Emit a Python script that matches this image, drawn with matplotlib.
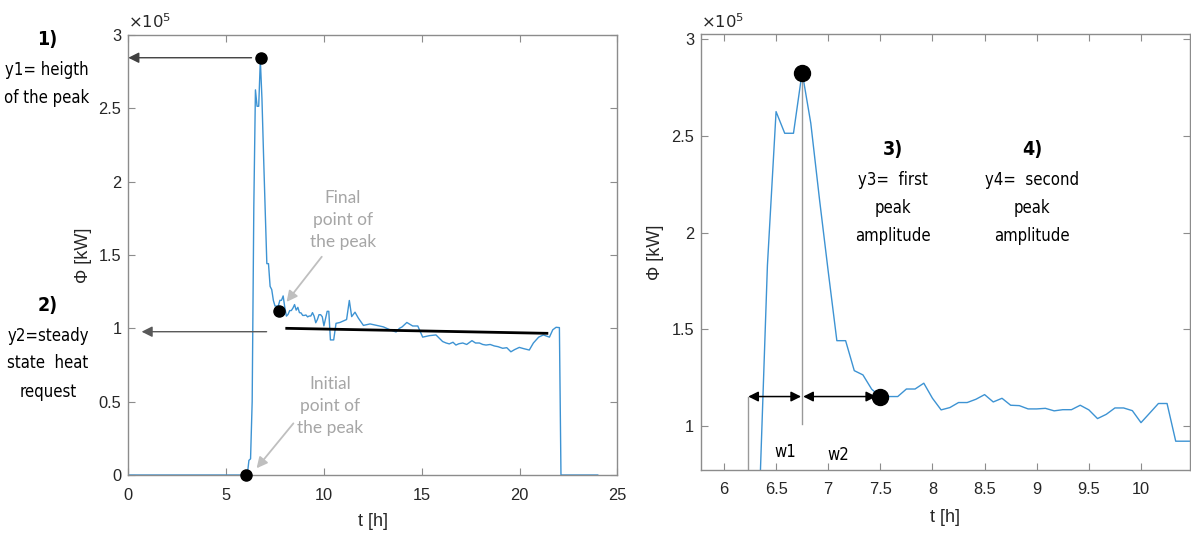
import matplotlib
matplotlib.use("Agg")
import matplotlib.pyplot as plt
from matplotlib.ticker import FuncFormatter

plt.rcParams['font.family'] = ['Liberation Sans', 'DejaVu Sans']

# heat request, units of 1e5 kW
t_h = [0.0, 6.0, 6.083, 6.167, 6.25, 6.333, 6.417, 6.5, 6.583, 6.667, 6.75, 6.833,
       6.917, 7.0, 7.083, 7.167, 7.25, 7.333, 7.417, 7.5, 7.583, 7.667, 7.75, 7.833,
       7.917, 8.0, 8.083, 8.167, 8.25, 8.333, 8.417, 8.5, 8.583, 8.667, 8.75, 8.833,
       8.917, 9.0, 9.083, 9.167, 9.25, 9.333, 9.417, 9.5, 9.583, 9.667, 9.75, 9.833,
       9.917, 10.0, 10.083, 10.167, 10.25, 10.333, 10.417, 10.5, 10.62, 10.82, 10.99,
       11.16, 11.3, 11.42, 11.59, 11.76, 12.02, 12.36, 12.7, 12.84, 13.04, 13.38,
       13.69, 13.86, 14.0, 14.24, 14.54, 14.8, 15.05, 15.39, 15.73, 16.07, 16.25,
       16.41, 16.6, 16.75, 16.9, 17.1, 17.3, 17.57, 17.75, 17.95, 18.12, 18.29, 18.5,
       18.71, 18.9, 19.14, 19.35, 19.56, 19.75, 19.99, 20.2, 20.5, 20.71, 20.98,
       21.22, 21.53, 21.7, 21.87, 22.04, 22.12, 24.0]
phi = [0.0, 0.0, 0.0, 0.1, 0.11, 0.5, 1.83, 2.626, 2.514, 2.514, 2.83, 2.566,
       2.17, 1.80, 1.441, 1.441, 1.286, 1.264, 1.19, 1.152, 1.152, 1.152, 1.191, 1.191,
       1.221, 1.143, 1.083, 1.095, 1.121, 1.121, 1.138, 1.162, 1.124, 1.143, 1.107, 1.105,
       1.088, 1.088, 1.091, 1.078, 1.084, 1.084, 1.107, 1.083, 1.038, 1.06, 1.093, 1.093,
       1.079, 1.017, 1.066, 1.116, 1.116, 0.921, 0.921, 0.921, 1.034, 1.04, 1.05,
       1.06, 1.19, 1.08, 1.11, 1.07, 1.02, 1.03, 1.02, 1.016, 1.01, 0.99,
       0.975, 1.0, 1.01, 1.04, 1.016, 1.016, 0.94, 0.95, 0.955, 0.91, 0.90,
       0.894, 0.905, 0.886, 0.895, 0.9, 0.89, 0.916, 0.9, 0.9, 0.89, 0.886, 0.89,
       0.88, 0.875, 0.864, 0.868, 0.84, 0.855, 0.87, 0.862, 0.852, 0.9, 0.94,
       0.955, 0.94, 0.99, 1.007, 1.005, 0.0, 0.0]

peak_pt = (6.78, 2.845)
start_pt = (6.0, 0.0)
final_pt = (7.72, 1.118)
steady_t = [8.1, 21.4]
steady_phi = [1.0, 0.966]

zoom_peak = (6.75, 2.824)
zoom_final = (7.5, 1.152)
w_left = 6.233

blue = '#3d93d3'
spine_c = '#8c8c8c'
txt_c = '#262626'
W, H = 1191, 534

fig = plt.figure(figsize=(W / 100, H / 100), dpi=100)
ax1 = fig.add_axes([128.3 / W, 1 - 475 / H, 489 / W, 440 / H])
ax2 = fig.add_axes([701 / W, 1 - 470 / H, 489 / W, 435.7 / H])

fmt = FuncFormatter(lambda v, p: '%g' % v)
for ax in (ax1, ax2):
    ax.plot(t_h, phi, color=blue, lw=1.0)
    for s in ax.spines.values():
        s.set_color(spine_c)
        s.set_linewidth(1.0)
    ax.tick_params(direction='in', length=5, width=0.8, color=spine_c,
                   top=True, right=True, labelsize=11.8, labelcolor=txt_c)
    ax.tick_params(axis='x', pad=9)
    ax.tick_params(axis='y', pad=5)
    ax.xaxis.set_major_formatter(fmt)
    ax.yaxis.set_major_formatter(fmt)
    ax.set_xlabel('t [h]', fontsize=13, color=txt_c)
    ax.set_ylabel('Φ [kW]', fontsize=13, color=txt_c)
    ax.text(0, 1.008, r'$\times10^{5}$', transform=ax.transAxes, fontsize=11.8,
            color=txt_c, ha='left', va='bottom')

# left panel
ax1.set_xlim(0, 25)
ax1.set_ylim(0, 3)
ax1.set_xticks([0, 5, 10, 15, 20, 25])
ax1.set_yticks([0, 0.5, 1, 1.5, 2, 2.5, 3])
ax1.xaxis.set_label_coords(0.5, -0.087)
ax1.yaxis.set_label_coords(-0.074, 0.5)

ax1.plot(steady_t, steady_phi, color='black', lw=2)
for pt in (peak_pt, start_pt, final_pt):
    ax1.plot(*pt, 'o', color='black', ms=8, clip_on=False, zorder=5)

ax1.annotate('', xy=(0, peak_pt[1]), xytext=(6.3, peak_pt[1]),
             arrowprops=dict(arrowstyle='-|>', color='#404040', lw=1,
                             mutation_scale=16, shrinkA=0, shrinkB=0))
ax1.annotate('', xy=(0.68, 0.977), xytext=(7.07, 0.977),
             arrowprops=dict(arrowstyle='-|>', color='#595959', lw=1,
                             mutation_scale=16, shrinkA=0, shrinkB=0))
ax1.annotate('', xy=(8.09, 1.18), xytext=(9.89, 1.488),
             arrowprops=dict(arrowstyle='-|>', color='#bfbfbf', lw=1.3,
                             mutation_scale=16, shrinkA=0, shrinkB=0))
ax1.annotate('', xy=(6.56, 0.046), xytext=(8.44, 0.352),
             arrowprops=dict(arrowstyle='-|>', color='#bfbfbf', lw=1.3,
                             mutation_scale=16, shrinkA=0, shrinkB=0))

# right panel
ax2.set_xlim(5.78, 10.47)
ax2.set_ylim(0.772, 3.026)
ax2.set_xticks([6, 6.5, 7, 7.5, 8, 8.5, 9, 9.5, 10])
ax2.set_yticks([1, 1.5, 2, 2.5, 3])
ax2.xaxis.set_label_coords(0.5, -0.09)
ax2.yaxis.set_label_coords(-0.076, 0.5)

ax2.plot([zoom_peak[0], zoom_peak[0]], [1.01, zoom_peak[1]], color='#999999', lw=1)
ax2.plot([w_left, w_left], [0.772, zoom_final[1]], color='#999999', lw=1)
for x0, x1 in ((w_left, zoom_peak[0] - 0.01), (zoom_peak[0] + 0.01, zoom_final[0] - 0.04)):
    ax2.annotate('', xy=(x1, zoom_final[1]), xytext=(x0, zoom_final[1]),
                 arrowprops=dict(arrowstyle='<|-|>', color='black', lw=1.1,
                                 mutation_scale=15, shrinkA=0, shrinkB=0))
for pt in (zoom_peak, zoom_final):
    ax2.plot(*pt, 'o', color='black', ms=11.5, zorder=5)

# text notes (pixel positions)
narrow = ['DejaVu Sans']


def note(x, y, s, **kw):
    fig.text(x / W, 1 - y / H, s, ha='center', va='center', **kw)


blocks = [
    (47, [(40, '1)'), (70, 'y1= heigth'), (98, 'of the peak')]),
    (48, [(305, '2)'), (336, 'y2=steady'), (363, 'state  heat'), (392, 'request')]),
    (893, [(150, '3)'), (180, 'y3=  first'), (208, 'peak'), (236, 'amplitude')]),
    (1032, [(150, '4)'), (180, 'y4=  second'), (208, 'peak'), (236, 'amplitude')]),
]
for x, lines in blocks:
    for i, (y, s) in enumerate(lines):
        if i == 0:
            note(x, y, s, family=narrow, stretch='condensed', fontsize=14,
                 fontweight='bold', color='black')
        else:
            note(x, y, s, family=narrow, stretch='condensed', fontsize=12,
                 color='black')

note(785, 452, 'w1', family=narrow, stretch='condensed', fontsize=12, color='black')
note(838, 455, 'w2', family=narrow, stretch='condensed', fontsize=12, color='black')

for y, s in ((198, 'Final'), (220, 'point of'), (242, 'the peak')):
    note(343, y, s, family=['Lato', 'DejaVu Sans'], fontsize=12.5, color='#a6a6a6')
for y, s in ((384, 'Initial'), (406, 'point of'), (428, 'the peak')):
    note(330, y, s, family=['Lato', 'DejaVu Sans'], fontsize=12.5, color='#a6a6a6')

fig.savefig('out.png', dpi=100)
